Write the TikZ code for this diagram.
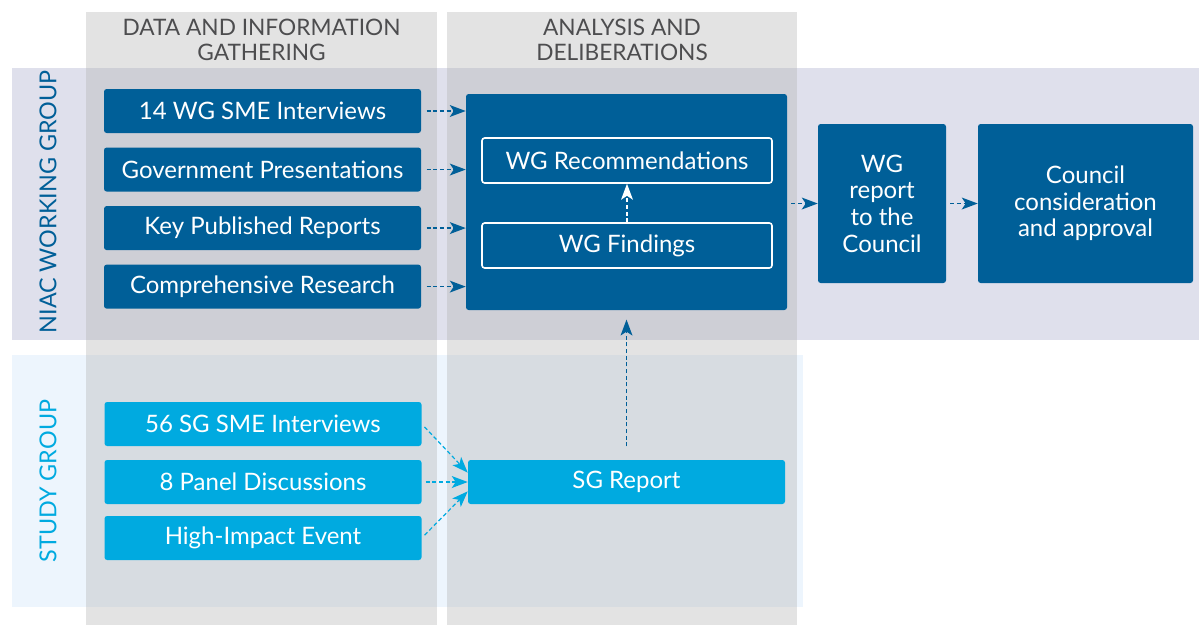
\documentclass[tikz,border=0pt]{standalone}
\usepackage{fontspec}
\setmainfont{Lato}
\usetikzlibrary{positioning,arrows.meta}
\definecolor{wgblue}{RGB}{0,95,152}
\definecolor{sgblue}{RGB}{0,170,224}
\definecolor{wgband}{RGB}{223,224,236}
\definecolor{sgband}{RGB}{237,245,253}
\definecolor{colgray}{RGB}{180,180,180}
\definecolor{headgray}{RGB}{77,77,79}

\begin{document}
\begin{tikzpicture}[x=0.75pt, y=-0.75pt, node distance=10.5pt,
    box/.style={rectangle, rounded corners=2pt, inner sep=0pt, text=white, align=center,
                font=\fontsize{18}{20}\selectfont},
    wgbox/.style={box, fill=wgblue, minimum width=237.75pt, minimum height=33pt},
    sgbox/.style={box, fill=sgblue, minimum width=237.75pt, minimum height=33pt},
    innerbox/.style={box, fill=wgblue, draw=white, line width=1.2pt, minimum width=217.5pt, minimum height=33.75pt},
    flow/.style={dash pattern=on 3pt off 2pt, line width=0.9pt, -{Stealth[length=12pt, width=9pt, inset=3pt, line width=0pt]}},
    head/.style={text=headgray, align=center, font=\fontsize{17}{18.75}\selectfont},
    side/.style={rotate=90, font=\fontsize{17.5}{20}\selectfont}]
  \useasboundingbox (0,0) rectangle (1199,625);

  % bands and columns
  \fill [wgband] (12,68) rectangle (1199,340);
  \fill [sgband] (12,355) rectangle (803,607);
  \fill [colgray, opacity=0.375] (86,12) rectangle (437,625);
  \fill [colgray, opacity=0.375] (447,12) rectangle (797,625);

  \node [head] at (261.5,40) (gathering) {DATA AND INFORMATION\\GATHERING};
  \node [head] at (622,40) (analysis) {ANALYSIS AND\\DELIBERATIONS};
  \node [side, text=wgblue] at (48,202) (wglabel) {NIAC WORKING GROUP};
  \node [side, text=sgblue] at (48,481) (sglabel) {STUDY GROUP};

  % working group
  \node [wgbox] at (262.5,111) (interviews) {14 WG SME Interviews};
  \node [wgbox, below=of interviews] (presentations) {Government Presentations};
  \node [wgbox, below=of presentations] (reports) {Key Published Reports};
  \node [wgbox, below=of reports] (research) {Comprehensive Research};

  \node [box, fill=wgblue, minimum width=240.75pt, minimum height=162pt] at (626.5,202) (deliberation) {};
  \node [innerbox] at (627,160.5) (recommendations) {WG Recommendations};
  \node [innerbox] at (627,245.5) (findings) {WG Findings};

  \node [box, fill=wgblue, minimum width=96pt, minimum height=119.25pt] at (882,203.5) (wgreport) {WG\\report\\to the\\Council};
  \node [box, fill=wgblue, minimum width=161.25pt, minimum height=119.25pt] at (1085.5,203.5) (council) {Council\\consideration\\and approval};

  % study group
  \node [sgbox] at (263,424) (sginterviews) {56 SG SME Interviews};
  \node [sgbox] at (263,482) (panels) {8 Panel Discussions};
  \node [sgbox] at (263,538) (event) {High-Impact Event};
  \node [sgbox] at (626.5,482) (sgreport) {SG Report};

  \foreach \src in {interviews, presentations, reports, research}
    \draw [flow, wgblue, shorten <=4pt] (\src.east) -- (\src.east -| deliberation.west);
  \draw [flow, white] (findings.north) -- (recommendations.south);
  \draw [flow, wgblue, shorten <=3pt] (deliberation.east |- wgreport.west) -- (wgreport.west);
  \draw [flow, wgblue, shorten <=3pt] (wgreport.east) -- (council.west);

  \draw [flow, sgblue, shorten <=3pt] (sginterviews.east) -- ([yshift=7pt]sgreport.west);
  \draw [flow, sgblue, shorten <=3pt] (panels.east) -- (sgreport.west);
  \draw [flow, sgblue, shorten <=3pt] (event.east) -- ([yshift=-7pt]sgreport.west);
  \draw [flow, wgblue, shorten <=10pt, shorten >=7pt] (sgreport.north) -- (deliberation.south);
\end{tikzpicture}
\end{document}
